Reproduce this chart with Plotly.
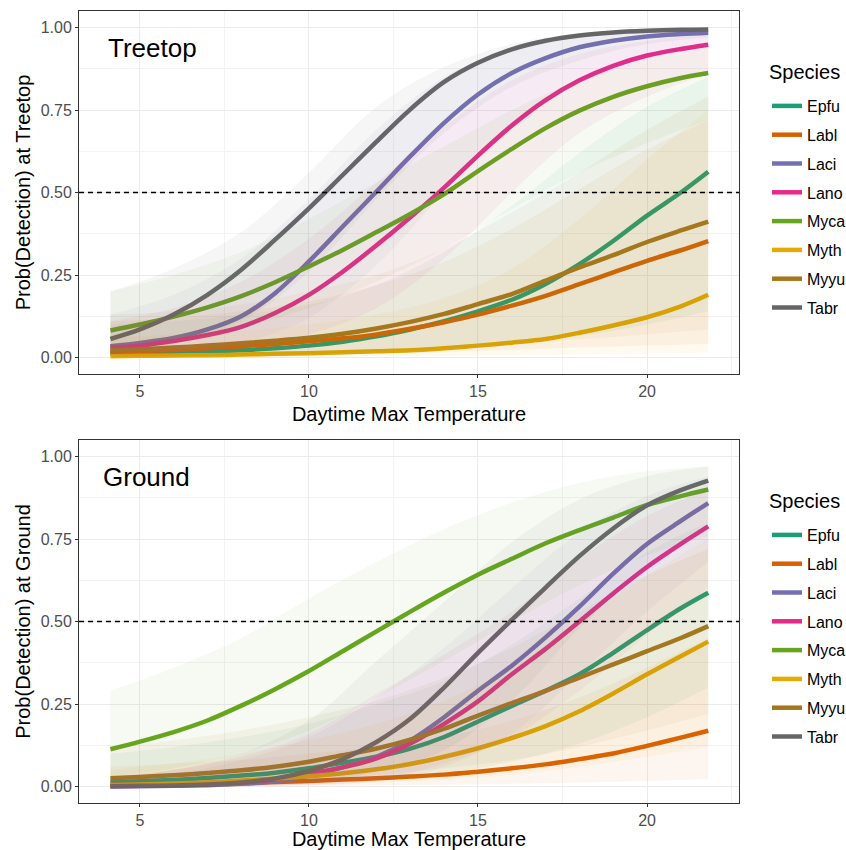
import plotly.graph_objects as go

# ---------------- data ----------------
SPECIES = ["Epfu", "Labl", "Laci", "Lano", "Myca", "Myth", "Myyu", "Tabr"]
COLORS = ["#1B9E77", "#D95F02", "#7570B3", "#E7298A", "#66A61E", "#E6AB02", "#A6761D", "#666666"]

# fitted curves: temperature grid
TEMP = [4.13, 5, 6, 7, 8, 9, 10, 11, 12, 13, 14, 15, 16, 17, 18, 19, 20, 21, 21.81]

TREE_FIT = {
    "Epfu": [0.012, 0.013, 0.015, 0.018, 0.022, 0.028, 0.036, 0.048, 0.064, 0.085, 0.110, 0.140, 0.175, 0.223, 0.283, 0.353, 0.430, 0.500, 0.563],
    "Labl": [0.017, 0.019, 0.023, 0.028, 0.034, 0.041, 0.049, 0.058, 0.070, 0.087, 0.107, 0.130, 0.157, 0.187, 0.222, 0.258, 0.293, 0.325, 0.353],
    "Laci": [0.034, 0.044, 0.059, 0.085, 0.125, 0.195, 0.291, 0.397, 0.503, 0.610, 0.711, 0.797, 0.862, 0.907, 0.940, 0.960, 0.973, 0.980, 0.984],
    "Lano": [0.030, 0.036, 0.050, 0.068, 0.093, 0.135, 0.190, 0.260, 0.340, 0.425, 0.515, 0.612, 0.703, 0.780, 0.840, 0.884, 0.915, 0.935, 0.948],
    "Myca": [0.082, 0.100, 0.124, 0.152, 0.186, 0.228, 0.276, 0.326, 0.380, 0.435, 0.495, 0.565, 0.632, 0.695, 0.748, 0.790, 0.822, 0.847, 0.862],
    "Myth": [0.004, 0.005, 0.006, 0.007, 0.009, 0.011, 0.013, 0.016, 0.019, 0.022, 0.028, 0.036, 0.045, 0.056, 0.075, 0.097, 0.122, 0.155, 0.190],
    "Myyu": [0.022, 0.025, 0.030, 0.036, 0.043, 0.051, 0.060, 0.072, 0.088, 0.108, 0.132, 0.162, 0.192, 0.233, 0.273, 0.310, 0.350, 0.385, 0.412],
    "Tabr": [0.056, 0.085, 0.130, 0.190, 0.266, 0.357, 0.452, 0.553, 0.654, 0.752, 0.835, 0.893, 0.934, 0.960, 0.976, 0.985, 0.990, 0.993, 0.994],
}
GROUND_FIT = {
    "Epfu": [0.013, 0.016, 0.020, 0.026, 0.033, 0.042, 0.055, 0.072, 0.090, 0.115, 0.150, 0.197, 0.244, 0.290, 0.340, 0.405, 0.474, 0.540, 0.587],
    "Labl": [0.005, 0.006, 0.008, 0.009, 0.011, 0.014, 0.017, 0.021, 0.025, 0.030, 0.036, 0.045, 0.055, 0.067, 0.083, 0.100, 0.123, 0.148, 0.169],
    "Laci": [0.0005, 0.001, 0.002, 0.004, 0.008, 0.016, 0.033, 0.058, 0.090, 0.140, 0.210, 0.290, 0.366, 0.452, 0.545, 0.645, 0.735, 0.805, 0.859],
    "Lano": [0.001, 0.002, 0.004, 0.007, 0.012, 0.022, 0.040, 0.058, 0.085, 0.130, 0.190, 0.258, 0.340, 0.417, 0.500, 0.585, 0.665, 0.735, 0.788],
    "Myca": [0.113, 0.136, 0.165, 0.200, 0.245, 0.295, 0.350, 0.410, 0.470, 0.530, 0.588, 0.642, 0.690, 0.737, 0.777, 0.815, 0.853, 0.880, 0.900],
    "Myth": [0.004, 0.006, 0.009, 0.013, 0.018, 0.024, 0.031, 0.040, 0.052, 0.068, 0.090, 0.116, 0.147, 0.183, 0.228, 0.282, 0.340, 0.395, 0.439],
    "Myyu": [0.025, 0.029, 0.034, 0.041, 0.049, 0.060, 0.075, 0.095, 0.115, 0.142, 0.175, 0.215, 0.253, 0.290, 0.330, 0.370, 0.410, 0.450, 0.486],
    "Tabr": [0.001, 0.002, 0.003, 0.006, 0.012, 0.024, 0.047, 0.083, 0.135, 0.205, 0.300, 0.405, 0.505, 0.603, 0.698, 0.782, 0.852, 0.898, 0.927],
}

# credible-interval ribbons: coarser temperature grid
RIB_TEMP = [4.13, 6, 8, 10, 12, 14, 16, 18, 20, 21.81]
TREE_LO = {
    "Epfu": [0.001, 0.002, 0.003, 0.006, 0.012, 0.022, 0.040, 0.065, 0.100, 0.140],
    "Labl": [0.002, 0.003, 0.005, 0.008, 0.012, 0.017, 0.023, 0.030, 0.036, 0.042],
    "Laci": [0.008, 0.018, 0.045, 0.120, 0.280, 0.500, 0.700, 0.830, 0.900, 0.940],
    "Lano": [0.007, 0.013, 0.030, 0.070, 0.150, 0.300, 0.500, 0.680, 0.790, 0.860],
    "Myca": [0.030, 0.055, 0.090, 0.150, 0.230, 0.330, 0.450, 0.560, 0.650, 0.720],
    "Myth": [0.0003, 0.0005, 0.001, 0.002, 0.003, 0.005, 0.007, 0.009, 0.012, 0.015],
    "Myyu": [0.003, 0.005, 0.008, 0.012, 0.018, 0.027, 0.040, 0.055, 0.070, 0.085],
    "Tabr": [0.012, 0.040, 0.110, 0.260, 0.480, 0.680, 0.820, 0.900, 0.950, 0.970],
}
TREE_HI = {
    "Epfu": [0.100, 0.110, 0.130, 0.160, 0.220, 0.320, 0.460, 0.620, 0.760, 0.850],
    "Labl": [0.110, 0.120, 0.140, 0.170, 0.220, 0.290, 0.390, 0.510, 0.630, 0.720],
    "Laci": [0.130, 0.190, 0.300, 0.480, 0.690, 0.850, 0.935, 0.972, 0.988, 0.994],
    "Lano": [0.110, 0.150, 0.230, 0.360, 0.530, 0.700, 0.840, 0.920, 0.960, 0.980],
    "Myca": [0.200, 0.250, 0.320, 0.420, 0.530, 0.640, 0.750, 0.840, 0.900, 0.940],
    "Myth": [0.060, 0.070, 0.080, 0.100, 0.130, 0.180, 0.270, 0.420, 0.600, 0.750],
    "Myyu": [0.130, 0.140, 0.160, 0.200, 0.250, 0.330, 0.440, 0.560, 0.690, 0.790],
    "Tabr": [0.200, 0.270, 0.380, 0.560, 0.760, 0.880, 0.950, 0.980, 0.990, 0.995],
}
GROUND_LO = {
    "Epfu": [0.001, 0.003, 0.006, 0.011, 0.022, 0.040, 0.075, 0.130, 0.210, 0.300],
    "Labl": [0.0003, 0.0006, 0.001, 0.002, 0.003, 0.005, 0.008, 0.012, 0.017, 0.022],
    "Laci": [0.0001, 0.0002, 0.001, 0.004, 0.015, 0.060, 0.160, 0.340, 0.530, 0.680],
    "Lano": [0.0001, 0.0004, 0.0015, 0.006, 0.020, 0.070, 0.150, 0.290, 0.460, 0.600],
    "Myca": [0.030, 0.055, 0.100, 0.170, 0.270, 0.380, 0.500, 0.610, 0.700, 0.760],
    "Myth": [0.0003, 0.001, 0.003, 0.006, 0.012, 0.020, 0.035, 0.060, 0.090, 0.120],
    "Myyu": [0.005, 0.008, 0.013, 0.022, 0.035, 0.055, 0.080, 0.120, 0.170, 0.220],
    "Tabr": [0.0001, 0.0005, 0.002, 0.010, 0.045, 0.110, 0.260, 0.480, 0.670, 0.800],
}
GROUND_HI = {
    "Epfu": [0.100, 0.120, 0.150, 0.190, 0.250, 0.320, 0.430, 0.570, 0.710, 0.800],
    "Labl": [0.060, 0.070, 0.080, 0.100, 0.120, 0.150, 0.200, 0.270, 0.360, 0.450],
    "Laci": [0.020, 0.040, 0.080, 0.150, 0.270, 0.420, 0.600, 0.770, 0.880, 0.940],
    "Lano": [0.030, 0.050, 0.090, 0.160, 0.280, 0.400, 0.530, 0.690, 0.820, 0.900],
    "Myca": [0.290, 0.360, 0.450, 0.570, 0.680, 0.780, 0.860, 0.920, 0.955, 0.970],
    "Myth": [0.050, 0.070, 0.100, 0.140, 0.190, 0.260, 0.360, 0.500, 0.640, 0.750],
    "Myyu": [0.120, 0.140, 0.170, 0.210, 0.260, 0.330, 0.420, 0.530, 0.640, 0.720],
    "Tabr": [0.030, 0.050, 0.100, 0.200, 0.380, 0.560, 0.740, 0.870, 0.940, 0.970],
}

PANELS = [
    ("Treetop", TREE_FIT, TREE_LO, TREE_HI),
    ("Ground", GROUND_FIT, GROUND_LO, GROUND_HI),
]
X_TICKS = [5, 10, 15, 20]
X_MINOR = [7.5, 12.5, 17.5, 22.5]
Y_TICKS = [0, 0.25, 0.5, 0.75, 1.0]
Y_MINOR = [0.125, 0.375, 0.625, 0.875]
X_RANGE = [3.2, 22.72]
Y_RANGE = [-0.05, 1.05]
THRESHOLD = 0.5
LEGEND_TITLE = "Species"

# ---------------- figure ----------------
W, H = 846, 850
FONT = "Liberation Sans, Arial, sans-serif"


def rgba(hex_color, a):
    h = hex_color.lstrip("#")
    return "rgba(%d,%d,%d,%.3f)" % (int(h[0:2], 16), int(h[2:4], 16), int(h[4:6], 16), a)


fig = go.Figure()

# panel pixel boxes (left, top, right, bottom)
boxes = [(79, 11, 739, 374), (79, 440, 739, 803)]
legend_title_y = [72, 501]
legend_tops = [89, 518]
label_left = [106, 101]

for p, (name, fit, lo, hi) in enumerate(PANELS):
    sfx = "" if p == 0 else str(p + 1)
    xa, ya = "x" + sfx, "y" + sfx
    leg = "legend" if p == 0 else "legend2"
    for sp, col in zip(SPECIES, COLORS):
        fig.add_trace(go.Scatter(
            x=TEMP, y=fit[sp], mode="lines", name=sp,
            line=dict(color=col, width=4.5, shape="spline", smoothing=0.9),
            xaxis=xa, yaxis=ya, legend=leg, legendgroup=name + sp,
            showlegend=True, hoverinfo="skip"))
    for sp, col in zip(SPECIES, COLORS):
        fig.add_trace(go.Scatter(
            x=RIB_TEMP, y=lo[sp], mode="lines",
            line=dict(width=0, shape="spline", smoothing=1.0, color=col),
            xaxis=xa, yaxis=ya, showlegend=False, hoverinfo="skip"))
        fig.add_trace(go.Scatter(
            x=RIB_TEMP, y=hi[sp], mode="lines", fill="tonexty",
            fillcolor=rgba(col, 0.06),
            line=dict(width=0, shape="spline", smoothing=1.0, color=col),
            xaxis=xa, yaxis=ya, showlegend=False, hoverinfo="skip"))

layout = dict(
    width=W, height=H,
    margin=dict(l=0, r=0, t=0, b=0, autoexpand=False),
    paper_bgcolor="white", plot_bgcolor="white",
    font=dict(family=FONT, color="black"),
    showlegend=True,
)

shapes = []
annotations = []
for p, (name, fit, lo, hi) in enumerate(PANELS):
    l, t, r, b = boxes[p]
    sfx = "" if p == 0 else str(p + 1)
    common = dict(
        showline=True, linecolor="#333333", linewidth=1, mirror=True,
        ticks="outside", ticklen=3, tickcolor="#333333", tickwidth=1,
        showgrid=True, gridcolor="#EBEBEB", gridwidth=1.1,
        zeroline=False, automargin=False,
        tickfont=dict(size=16, color="#4D4D4D", family=FONT),
    )
    layout["xaxis" + sfx] = dict(
        common, domain=[l / W, r / W], range=X_RANGE,
        tickvals=X_TICKS, anchor="y" + sfx,
        minor=dict(showgrid=True, gridcolor="#F3F3F3", gridwidth=0.6, tickvals=X_MINOR),
        title=dict(text="Daytime Max Temperature", font=dict(size=20, color="black", family=FONT), standoff=7),
    )
    layout["yaxis" + sfx] = dict(
        common, domain=[1 - b / H, 1 - t / H], range=Y_RANGE,
        tickvals=Y_TICKS, tickformat=".2f", anchor="x" + sfx,
        minor=dict(showgrid=True, gridcolor="#F3F3F3", gridwidth=0.6, tickvals=Y_MINOR),
        title=dict(text="Prob(Detection) at " + name, font=dict(size=20, color="black", family=FONT), standoff=4),
    )
    shapes.append(dict(
        type="line", xref="x" + sfx + " domain", yref="y" + sfx,
        x0=0, x1=1, y0=THRESHOLD, y1=THRESHOLD,
        line=dict(color="black", width=1.3, dash="5px,4px"), layer="above"))
    annotations.append(dict(
        text=name, xref="paper", yref="paper",
        x=label_left[p] / W, y=1 - (t + 37) / H,
        xanchor="left", yanchor="middle", showarrow=False,
        font=dict(size=26, color="black", family=FONT)))
    annotations.append(dict(
        text=LEGEND_TITLE, xref="paper", yref="paper",
        x=767 / W, y=1 - legend_title_y[p] / H,
        xanchor="left", yanchor="middle", showarrow=False,
        font=dict(size=20, color="black", family=FONT)))
    legkey = "legend" if p == 0 else "legend2"
    layout[legkey] = dict(
        x=767 / W, y=1 - legend_tops[p] / H, xanchor="left", yanchor="top",
        font=dict(size=16, color="black", family=FONT),
        traceorder="grouped", tracegroupgap=5,
        bgcolor="rgba(0,0,0,0)", itemwidth=30,
    )

layout["shapes"] = shapes
layout["annotations"] = annotations
fig.update_layout(**layout)

fig.write_html("out.html", config={"displayModeBar": False},
               post_script="document.body.style.margin='0';")
